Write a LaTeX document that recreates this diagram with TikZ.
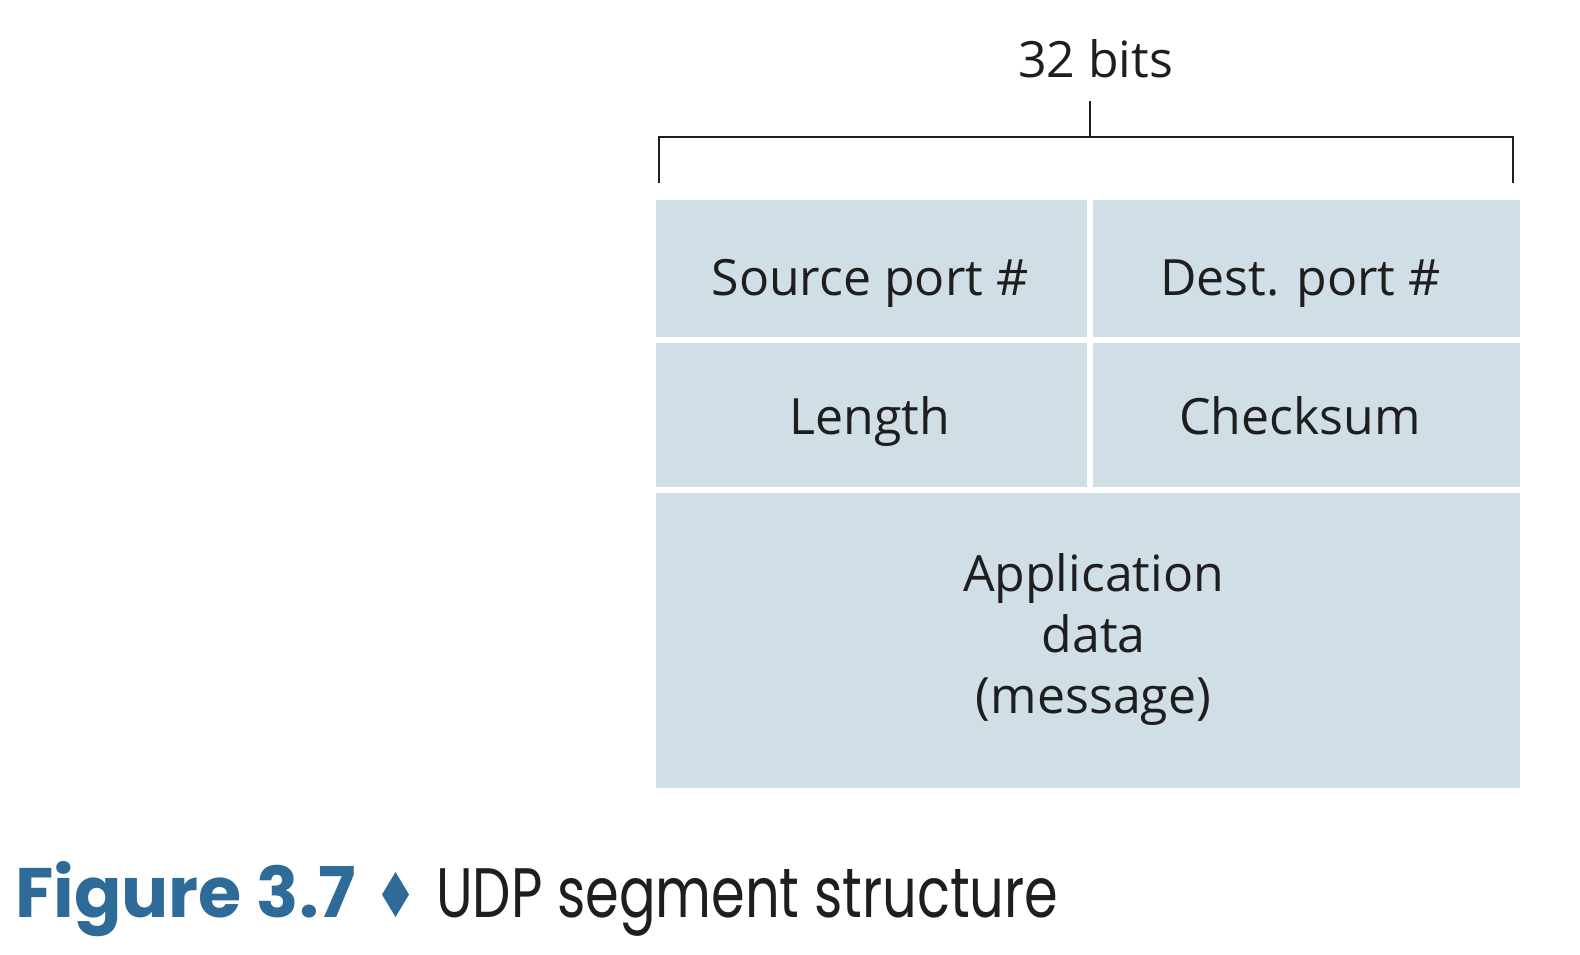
\documentclass[tikz,border=0pt]{standalone}
\usepackage{fontspec}
\setmainfont{Open Sans}
\newfontfamily\figfont{Poppins}
\newfontfamily\capfont{Poppins}[FakeStretch=0.775]
\definecolor{boxfill}{RGB}{208,222,229}
\definecolor{figblue}{RGB}{46,107,152}
\definecolor{ink}{RGB}{30,30,30}
\tikzset{
  fieldbox/.style={fill=boxfill, draw=none, inner sep=0pt},
  fieldtext/.style={anchor=base, inner sep=0pt, text=ink, font=\fontsize{50}{61}\selectfont},
  bracketline/.style={draw=ink, line width=2pt},
}
\begin{document}
\begin{tikzpicture}[x=1pt,y=-1pt]
\useasboundingbox (0,0) rectangle (1580,954);
% boxes
\node[fieldbox, minimum width=431pt, minimum height=137pt] (srcbox) at (871.5,268.5) {};
\node[fieldbox, minimum width=427pt, minimum height=137pt] (dstbox) at (1306.5,268.5) {};
\node[fieldbox, minimum width=431pt, minimum height=144pt] (lenbox) at (871.5,415) {};
\node[fieldbox, minimum width=427pt, minimum height=144pt] (chkbox) at (1306.5,415) {};
\node[fieldbox, minimum width=864pt, minimum height=295pt] (databox) at (1088,640.5) {};
% texts
\node[fieldtext] (src) at (870,295) {Source port \#};
\node[fieldtext] (dst) at (1300.5,295) {Dest. port \#};
\node[fieldtext] (len) at (870,434) {Length};
\node[fieldtext] (chk) at (1300,434) {Checksum};
\node[fieldtext] (app1) at (1093.5,591) {Application};
\node[fieldtext] (app2) at (1093.5,652) {data};
\node[fieldtext] (app3) at (1093.5,713) {(message)};
% bracket
\coordinate (bl) at (659,183);
\coordinate (blt) at (659,137);
\coordinate (brt) at (1513,137);
\coordinate (br) at (1513,183);
\coordinate (tickbot) at (1090,137);
\coordinate (ticktop) at (1090,101);
\draw[bracketline] (bl) -- (blt) -- (brt) -- (br);
\draw[bracketline] (tickbot) -- (ticktop);
\node[fieldtext, font=\fontsize{50}{60}\selectfont] (bits) at (1095.5,77) {32 bits};
% caption
\node[anchor=base west, inner sep=0pt, text=figblue, font=\figfont\bfseries\fontsize{70}{80}\selectfont] (fig) at (15,917) {Figure 3.7};
\fill[figblue] (395.5,872) -- (409,894.5) -- (395.5,917) -- (382,894.5) -- cycle;
\node[anchor=base west, inner sep=0pt, text=ink, font=\capfont\fontsize{70}{80}\selectfont] (cap) at (436,917) {UDP segment structure};
\end{tikzpicture}
\end{document}
